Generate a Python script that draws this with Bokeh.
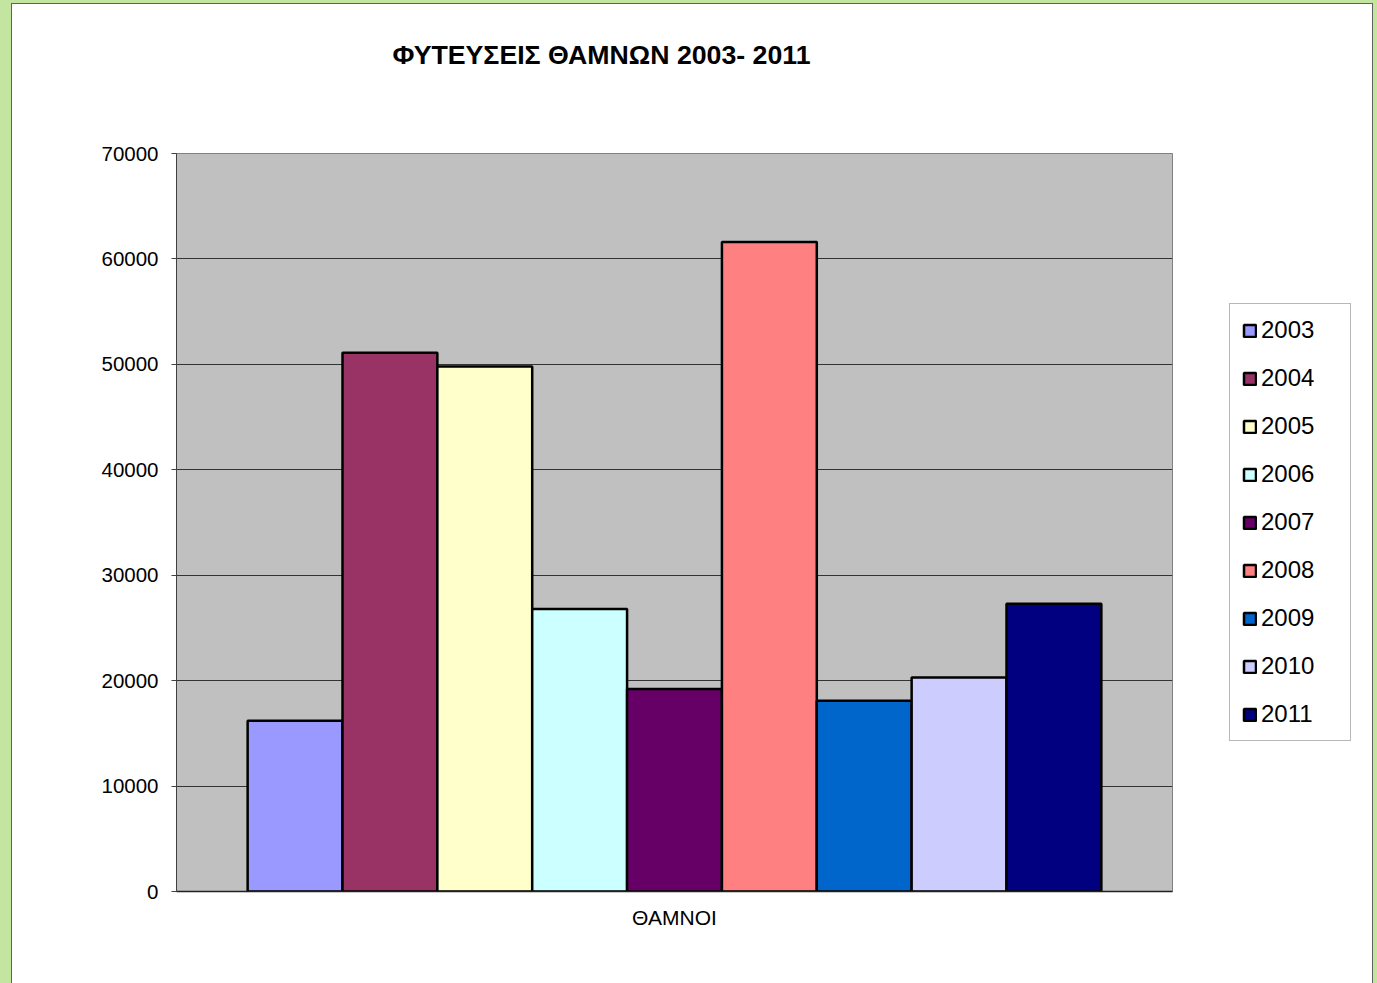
from bokeh.plotting import figure
from bokeh.layouts import column, row
from bokeh.models import (FactorRange, Range1d, ColumnDataSource, Legend, LegendItem,
                          FixedTicker, Title)
from bokeh.transform import dodge
from bokeh.embed import file_html
from bokeh.resources import INLINE

title_text = "ΦΥΤΕΥΣΕΙΣ ΘΑΜΝΩΝ 2003- 2011"
category = ["ΘΑΜΝΟΙ"]
years = ["2003", "2004", "2005", "2006", "2007", "2008", "2009", "2010", "2011"]
values = [16200, 51100, 49800, 26800, 19200, 61600, 18100, 20300, 27300]
colors = ["#9999FF", "#993366", "#FFFFCC", "#CCFFFF", "#660066",
          "#FF8080", "#0066CC", "#CCCCFF", "#000080"]
y_ticks = [0, 10000, 20000, 30000, 40000, 50000, 60000, 70000]

FONT = "Liberation Sans"
FRAME_W, FRAME_H = 996, 738
TOP, BOTTOM = 149, 92

# ---------------- main chart ----------------
p = figure(frame_width=FRAME_W, frame_height=FRAME_H,
           output_backend="svg", toolbar_location=None,
           x_range=FactorRange(factors=category, range_padding=0),
           y_range=Range1d(0, 70000),
           min_border_left=164, min_border_right=2,
           min_border_top=10, min_border_bottom=BOTTOM)

p.border_fill_color = "white"
p.background_fill_color = "#c0c0c0"
p.outline_line_color = "#808080"
p.outline_line_width = 1

n = len(years)
bar_w = 1.0 / (n + 1.5)
for i, (yr, v, c) in enumerate(zip(years, values, colors)):
    src = ColumnDataSource(dict(cat=category, val=[v]))
    p.vbar(x=dodge("cat", (i - (n - 1) / 2) * bar_w, range=p.x_range),
           top="val", width=bar_w, source=src,
           fill_color=c, line_color="black", line_width=2.5)

p.xgrid.grid_line_color = None
p.ygrid.grid_line_color = "#333333"
p.ygrid.grid_line_width = 1

p.yaxis.ticker = FixedTicker(ticks=y_ticks)
p.yaxis.minor_tick_line_color = None
p.yaxis.major_tick_in = 0
p.yaxis.major_tick_out = 5
p.yaxis.major_tick_line_color = "#404040"
p.yaxis.axis_line_color = "#404040"
p.yaxis.major_label_text_font = FONT
p.yaxis.major_label_text_font_size = "20.5px"
p.yaxis.major_label_text_color = "black"
p.yaxis.major_label_standoff = 13
p.yaxis.formatter.use_scientific = False

p.xaxis.major_tick_line_color = None
p.xaxis.axis_line_color = "#202020"
p.xaxis.axis_line_width = 1.5
p.xaxis.major_label_text_font = FONT
p.xaxis.major_label_text_font_size = "21px"
p.xaxis.major_label_text_color = "black"
p.xaxis.major_label_standoff = 8

# spacer between frame and title, then the title itself (outermost)
p.add_layout(Title(text=" ", text_font_size="10px", standoff=38), "above")
p.add_layout(Title(text=title_text, align="left", offset=216, standoff=65,
                   text_font=FONT, text_font_style="bold", text_font_size="26.7px",
                   text_color="black"), "above")

# ---------------- legend panel ----------------
# its y range is chosen so the degenerate swatch bars fall behind the legend box
q = figure(frame_width=198, frame_height=FRAME_H,
           output_backend="svg", toolbar_location=None,
           x_range=Range1d(0, 1), y_range=Range1d(-100000, 200000),
           x_axis_location=None, y_axis_location=None,
           min_border_left=0, min_border_right=0,
           min_border_top=TOP, min_border_bottom=BOTTOM)
q.border_fill_color = "white"
q.background_fill_color = "white"
q.outline_line_color = None
q.grid.grid_line_color = None

items = []
for yr, v, c in zip(years, values, colors):
    # legend swatch only: a zero-size bar hidden behind the legend box
    src = ColumnDataSource(dict(x=[0.5], top=[v]))
    r = q.vbar(x="x", top="top", bottom="top", width=0, source=src,
               fill_color=c, line_color="black", line_width=2.5)
    items.append(LegendItem(label=yr, renderers=[r]))

legend = Legend(items=items, location="center_right",
                padding=12, spacing=20, margin=21,
                glyph_width=15, glyph_height=15, label_height=28, label_width=77,
                label_standoff=4,
                label_text_font=FONT, label_text_font_size="24px",
                label_text_color="black",
                border_line_color="#707070", border_line_width=1,
                background_fill_color="white", background_fill_alpha=1)
q.add_layout(legend)

inner = row(p, q, styles={"outline": "1.5px solid #606060",
                          "background-color": "white"})
page = column(inner, styles={"background-color": "#c4e59f",
                             "padding": "4px 5px 0px 12px"})

open("out.html", "w").write(file_html(page, INLINE))
